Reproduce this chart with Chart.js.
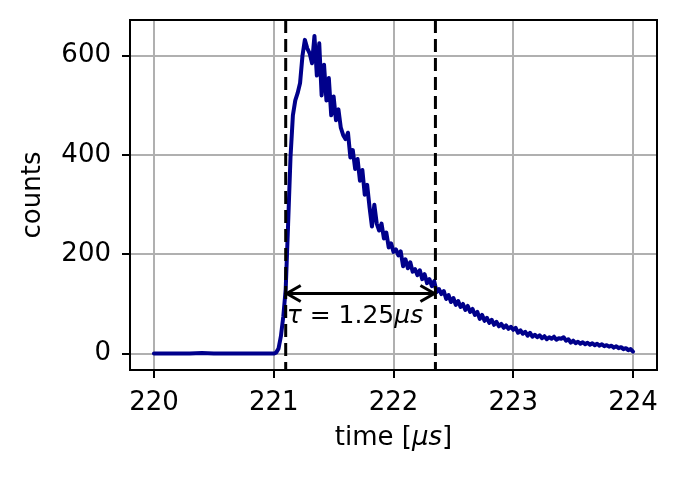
<!DOCTYPE html>
<html>
<head>
<meta charset="utf-8">
<script src="https://cdn.jsdelivr.net/npm/chart.js@4.4.0/dist/chart.umd.min.js"></script>
<style>
  html, body { margin: 0; padding: 0; background: #fff; }
  #wrap { width: 681px; height: 477px; }
</style>
</head>
<body>
<div id="wrap"><canvas id="c"></canvas></div>
<script>
// time axis in microseconds
const times = [
  220.0, 220.1, 220.2, 220.3, 220.4, 220.5, 220.6, 220.7, 220.8, 220.9,
  221.00, 221.02, 221.04, 221.06, 221.08, 221.10, 221.12, 221.14, 221.16, 221.18,
  221.20, 221.22, 221.24, 221.26, 221.28, 221.30, 221.32, 221.34, 221.36, 221.38,
  221.40, 221.42, 221.44, 221.46, 221.48, 221.50, 221.52, 221.54, 221.56, 221.58,
  221.60, 221.62, 221.64, 221.66, 221.68, 221.70, 221.72, 221.74, 221.76, 221.78,
  221.80, 221.82, 221.84, 221.86, 221.88, 221.90, 221.92, 221.94, 221.96, 221.98,
  222.00, 222.02, 222.04, 222.06, 222.08, 222.10, 222.12, 222.14, 222.16, 222.18,
  222.20, 222.22, 222.24, 222.26, 222.28, 222.30, 222.32, 222.34, 222.36, 222.38,
  222.40, 222.42, 222.44, 222.46, 222.48, 222.50, 222.52, 222.54, 222.56, 222.58,
  222.60, 222.62, 222.64, 222.66, 222.68, 222.70, 222.72, 222.74, 222.76, 222.78,
  222.80, 222.82, 222.84, 222.86, 222.88, 222.90, 222.92, 222.94, 222.96, 222.98,
  223.00, 223.02, 223.04, 223.06, 223.08, 223.10, 223.12, 223.14, 223.16, 223.18,
  223.20, 223.22, 223.24, 223.26, 223.28, 223.30, 223.32, 223.34, 223.36, 223.38,
  223.40, 223.42, 223.44, 223.46, 223.48, 223.50, 223.52, 223.54, 223.56, 223.58,
  223.60, 223.62, 223.64, 223.66, 223.68, 223.70, 223.72, 223.74, 223.76, 223.78,
  223.80, 223.82, 223.84, 223.86, 223.88, 223.90, 223.92, 223.94, 223.96, 223.98,
  224.00
];
const counts = [
  0, 0, 0, 0, 1, 0, 0, 0, 0, 0,
  0, 2, 10, 35, 75, 130, 260, 395, 480, 510,
  525, 545, 600, 632, 615, 605, 585, 640, 560, 625,
  520, 582, 510, 555, 480, 518, 470, 492, 455, 440,
  432, 445, 395, 410, 372, 392, 348, 370, 320, 340,
  295, 256, 300, 262, 248, 262, 232, 244, 214, 222,
  205, 210, 198, 206, 176, 190, 172, 184, 165, 170,
  158, 168, 150, 160, 142, 150, 136, 146, 124, 130,
  120, 126, 110, 118, 104, 112, 98, 106, 94, 100,
  88, 96, 84, 90, 78, 84, 70, 78, 66, 72,
  62, 68, 58, 64, 55, 60, 52, 57, 50, 54,
  48, 52, 42, 47, 40, 44, 36, 42, 34, 38,
  33, 37, 31, 35, 29, 33, 30, 34, 28, 31,
  30, 33, 26, 29, 22, 26, 21, 24, 20, 23,
  19, 22, 18, 21, 17, 20, 16, 19, 15, 17,
  14, 16, 12, 15, 11, 13, 9, 11, 7, 9,
  4
];
const xTicks = [220, 221, 222, 223, 224];
const yTicks = [0, 200, 400, 600];

// decay time markers
const tauStart = 221.1;
const tauEnd = 222.35;
const arrowY = 121;
const labelY = 62;

const FONT = 'DejaVu Sans';

// draw mixed normal/italic text, centred on x if centre is set
function mixedText(ctx, parts, x, y, size, centre) {
  let w = 0;
  parts.forEach(([s, st]) => {
    ctx.font = st + ' ' + size + 'px "' + FONT + '"';
    w += ctx.measureText(s).width;
  });
  let tx = centre ? x - w / 2 : x;
  parts.forEach(([s, st]) => {
    ctx.font = st + ' ' + size + 'px "' + FONT + '"';
    ctx.fillText(s, tx, y);
    tx += ctx.measureText(s).width;
  });
}

const markers = {
  id: 'markers',
  afterDatasetsDraw(chart) {
    const {ctx, chartArea: a, scales: {x, y}} = chart;
    ctx.save();
    ctx.beginPath();
    ctx.rect(a.left, a.top, a.right - a.left, a.bottom - a.top);
    ctx.clip();
    // dashed verticals
    ctx.strokeStyle = '#000';
    ctx.lineWidth = 3;
    ctx.setLineDash([13, 6]);
    [tauStart, tauEnd].forEach(t => {
      const px = x.getPixelForValue(t);
      ctx.beginPath();
      ctx.moveTo(px, a.top);
      ctx.lineTo(px, a.bottom);
      ctx.stroke();
    });
    ctx.setLineDash([]);
    // double arrow
    const x0 = x.getPixelForValue(tauStart);
    const x1 = x.getPixelForValue(tauEnd);
    const py = y.getPixelForValue(arrowY);
    ctx.lineWidth = 3;
    ctx.beginPath();
    ctx.moveTo(x0 + 1, py);
    ctx.lineTo(x1 - 1, py);
    ctx.moveTo(x0 + 15, py - 8);
    ctx.lineTo(x0 + 1, py);
    ctx.lineTo(x0 + 15, py + 8);
    ctx.moveTo(x1 - 15, py - 8);
    ctx.lineTo(x1 - 1, py);
    ctx.lineTo(x1 - 15, py + 8);
    ctx.stroke();
    ctx.restore();

    // label  τ = 1.25μs
    ctx.save();
    ctx.fillStyle = '#000';
    ctx.textBaseline = 'alphabetic';
    mixedText(ctx, [['τ', 'italic'], [' = 1.25', 'normal'], ['μs', 'italic']],
      x0 + 1, y.getPixelForValue(labelY), 25, false);
    ctx.restore();
  },
  afterDraw(chart) {
    const {ctx, chartArea: a} = chart;
    ctx.save();
    ctx.strokeStyle = '#000';
    ctx.lineWidth = 2;
    ctx.strokeRect(a.left, a.top, a.right - a.left, a.bottom - a.top);
    // x axis title with italic mu
    ctx.fillStyle = '#000';
    ctx.textBaseline = 'middle';
    mixedText(ctx, [['time [', 'normal'], ['μs', 'italic'], [']', 'normal']],
      (a.left + a.right) / 2, a.bottom + 68, 26, true);
    ctx.restore();
  }
};

new Chart(document.getElementById('c'), {
  type: 'line',
  data: {
    datasets: [{
      data: times.map((t, i) => ({x: t, y: counts[i]})),
      borderColor: '#00008b',
      borderWidth: 4,
      borderJoinStyle: 'round',
      borderCapStyle: 'round',
      pointRadius: 0,
      tension: 0,
      fill: false
    }]
  },
  options: {
    responsive: true,
    maintainAspectRatio: false,
    animation: false,
    layout: {padding: {left: 0, top: 20, right: 24, bottom: 0}},
    plugins: {legend: {display: false}, tooltip: {enabled: false}},
    scales: {
      x: {
        type: 'linear',
        min: 219.8,
        max: 224.2,
        afterBuildTicks: s => { s.ticks = xTicks.map(v => ({value: v})); },
        afterFit: s => { s.height = 107; s.paddingLeft = 0; s.paddingRight = 0; },
        grid: {color: '#b0b0b0', lineWidth: 2, tickLength: 8, tickColor: '#000', tickWidth: 2},
        border: {display: false},
        ticks: {color: '#000', font: {family: FONT, size: 26, lineHeight: 1}, padding: 12, maxRotation: 0},
        title: {display: false}
      },
      y: {
        min: -33,
        max: 672,
        afterBuildTicks: s => { s.ticks = yTicks.map(v => ({value: v})); },
        afterFit: s => { s.width = 130; s.paddingTop = 0; s.paddingBottom = 0; },
        grid: {color: '#b0b0b0', lineWidth: 2, tickLength: 8, tickColor: '#000', tickWidth: 2},
        border: {display: false},
        ticks: {color: '#000', font: {family: FONT, size: 26, lineHeight: 1}, padding: 11},
        title: {display: true, text: 'counts', color: '#000', font: {family: FONT, size: 26, lineHeight: 1}, padding: {top: 20, bottom: 0}}
      }
    }
  },
  plugins: [markers]
});
</script>
</body>
</html>
